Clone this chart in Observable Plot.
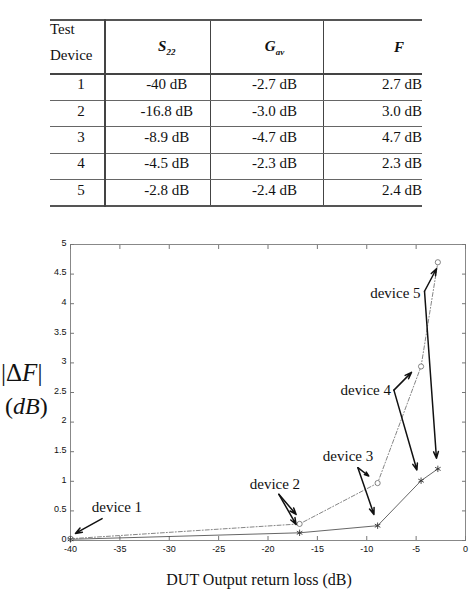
<!DOCTYPE html>
<html>
<head>
<meta charset="utf-8">
<script src="https://cdn.jsdelivr.net/npm/d3@7"></script>
<script src="https://cdn.jsdelivr.net/npm/@observablehq/plot@0.6"></script>
<style>
  html, body { margin: 0; padding: 0; background: #fff; }
  body { width: 474px; height: 596px; position: relative; overflow: hidden; font-family: "Liberation Serif", serif; color: #111; }
  #tbl { position: absolute; left: 50px; top: 19px; border-collapse: collapse; font-size: 15px; table-layout: fixed; }
  #tbl td, #tbl th { padding: 0; font-weight: normal; }
  #tbl tr.head { height: 52px; }
  #tbl tr.row { height: 26.4px; }
  #tbl tr.row td { padding-bottom: 5px; }
  #tbl { border-top: 2px solid #555; border-bottom: 2px solid #555; }
  #tbl tr.head th { border-bottom: 2.5px solid #444; vertical-align: middle; }
  #tbl tr.row td { border-bottom: 1px solid #666; }
  #tbl .c1 { border-right: 2.5px solid #444; text-align: left; }
  #tbl td.c1 { text-align: center; padding-left: 8px; }
  #tbl .c2 { border-right: 1px solid #444; text-align: center; padding-left: 18px; }
  #tbl .c3 { border-right: 1px solid #444; text-align: center; padding-left: 16px; }
  #tbl .c4 { text-align: right; }
  #tbl th.c4 { padding-right: 18px; }
  #tbl th.c2, #tbl th.c3, #tbl th.c4 { font-weight: bold; font-style: italic; }
  #tbl th.c1 { line-height: 26px; text-align: left; }
  #tbl th.c1 span { position: relative; top: -5px; }
  #chart { position: absolute; left: 0; top: 215px; }
  #ylab1 { position: absolute; left: 1px; top: 358px; font-size: 25px; line-height: 30px; }
  #ylab2 { position: absolute; left: 5px; top: 391px; font-size: 24px; line-height: 30px; }
</style>
</head>
<body>
<table id="tbl"></table>
<div id="chart"></div>
<div id="ylab1">|Δ<i>F</i>|</div>
<div id="ylab2">(<i>dB</i>)</div>
<script>
// ---- table data ----
const devices = ["1", "2", "3", "4", "5"];
const s22Text = ["-40 dB", "-16.8 dB", "-8.9 dB", "-4.5 dB", "-2.8 dB"];
const gavText = ["-2.7 dB", "-3.0 dB", "-4.7 dB", "-2.3 dB", "-2.4 dB"];
const fText = ["2.7 dB", "3.0 dB", "4.7 dB", "2.3 dB", "2.4 dB"];

// ---- chart data ----
const returnLoss = [-40, -16.8, -8.9, -4.5, -2.8];
const deltaFCircle = [0.03, 0.28, 0.97, 2.94, 4.70];
const deltaFStar = [0.02, 0.13, 0.25, 1.01, 1.21];
const xTicks = [-40, -35, -30, -25, -20, -15, -10, -5, 0];
const yTicks = [0, 0.5, 1, 1.5, 2, 2.5, 3, 3.5, 4, 4.5, 5];

// annotation labels
const labelText = ["device 1", "device 2", "device 3", "device 4", "device 5"];
const labelX = [-35.3, -19.3, -11.9, -10.1, -7.1];
const labelY = [0.57, 0.95, 1.43, 2.54, 4.17];
// annotation arrows (data coordinates)
const arrowX1 = [-36.8, -18.9, -18.9, -10.9, -10.9, -7.25, -7.25, -4.15, -4.15];
const arrowY1 = [0.37, 0.78, 0.78, 1.23, 1.23, 2.54, 2.54, 4.21, 4.21];
const arrowX2 = [-39.5, -17.15, -17.15, -9.8, -9.27, -5.47, -4.92, -2.94, -2.94];
const arrowY2 = [0.12, 0.44, 0.27, 1.09, 0.44, 2.84, 1.19, 4.59, 1.39];

// build table
const tbl = document.getElementById("tbl");
const colW = [55, 105, 113, 99];
const cg = document.createElement("colgroup");
colW.forEach(w => { const c = document.createElement("col"); c.style.width = w + "px"; cg.appendChild(c); });
tbl.appendChild(cg);
const hr = document.createElement("tr");
hr.className = "head";
hr.innerHTML = '<th class="c1"><span>Test<br>Device</span></th><th class="c2">S<sub style="font-size:9px">22</sub></th><th class="c3">G<sub style="font-size:9px">av</sub></th><th class="c4">F</th>';
tbl.appendChild(hr);
devices.forEach((d, i) => {
  const tr = document.createElement("tr");
  tr.className = "row";
  [d, s22Text[i], gavText[i], fText[i]].forEach((v, j) => {
    const td = document.createElement("td");
    td.className = "c" + (j + 1);
    td.textContent = v;
    tr.appendChild(td);
  });
  tbl.appendChild(tr);
});

// chart
const pts = returnLoss.map((x, i) => ({x, yc: deltaFCircle[i], ys: deltaFStar[i]}));
const labels = labelText.map((t, i) => ({t, x: labelX[i], y: labelY[i]}));
const arrows = arrowX1.map((x1, i) => ({x1, y1: arrowY1[i], x2: arrowX2[i], y2: arrowY2[i]}));

const tickFont = {fontFamily: "Liberation Sans, Arial, sans-serif", fontSize: 9, fill: "#111"};
const noText = () => "";

const plot = Plot.plot({
  width: 474,
  height: 381,
  marginTop: 29,
  marginBottom: 56,
  marginLeft: 70,
  marginRight: 9,
  style: {fontFamily: "Liberation Sans, Arial, sans-serif", background: "white", color: "#222"},
  x: {domain: [-40, 0]},
  y: {domain: [0, 5]},
  marks: [
    Plot.frame({stroke: "#888", strokeWidth: 1}),
    Plot.axisX(xTicks, {anchor: "bottom", tickSize: 4, dy: -4, stroke: "#777", tickFormat: noText, label: null}),
    Plot.axisX(xTicks, {anchor: "top", tickSize: 4, dy: 4, stroke: "#777", tickFormat: noText, label: null}),
    Plot.axisY(yTicks, {anchor: "left", tickSize: 4, dx: 4, stroke: "#777", tickFormat: noText, label: null}),
    Plot.axisY(yTicks, {anchor: "right", tickSize: 4, dx: -4, stroke: "#777", tickFormat: noText, label: null}),
    Plot.axisX(xTicks, {anchor: "bottom", tickSize: 0, tickPadding: 5, tickFormat: d => String(d), label: null, ...tickFont}),
    Plot.axisY(yTicks, {anchor: "left", tickSize: 0, tickPadding: 4, dy: -1.5, tickFormat: d => String(d), label: null, ...tickFont}),
    Plot.line(pts, {x: "x", y: "yc", stroke: "#777", strokeWidth: 0.9, strokeDasharray: "4,2,1,2"}),
    Plot.line(pts, {x: "x", y: "ys", stroke: "#555", strokeWidth: 0.9}),
    Plot.dot(pts, {x: "x", y: "yc", r: 2.6, stroke: "#666", fill: "white", strokeWidth: 0.8}),
    Plot.dot(pts, {x: "x", y: "ys", r: 3, symbol: "asterisk", stroke: "#333", strokeWidth: 0.9}),
    Plot.arrow(arrows, {x1: "x1", y1: "y1", x2: "x2", y2: "y2", stroke: "#111", strokeWidth: 1.5, headLength: 7, headAngle: 40}),
    Plot.text(labels, {x: "x", y: "y", text: "t", fontFamily: "Liberation Serif, serif", fontSize: 15, fill: "#111"}),
    Plot.text(["DUT Output return loss (dB)"], {frameAnchor: "bottom", dx: -9, dy: 44, fontFamily: "Liberation Serif, serif", fontSize: 16, fill: "#111"})
  ]
});
document.getElementById("chart").appendChild(plot);
</script>
</body>
</html>
